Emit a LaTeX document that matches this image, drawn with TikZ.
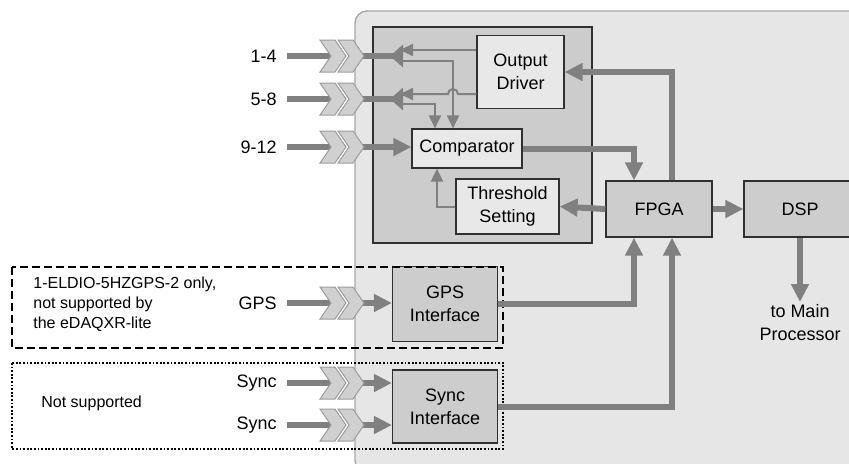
\documentclass[tikz,border=0pt]{standalone}
\usepackage{fontspec}
\setmainfont{Liberation Sans}
\usetikzlibrary{arrows.meta,calc}
\definecolor{dqpanel}{HTML}{E6E6E6}
\definecolor{dqrim}{HTML}{A8A8A8}
\definecolor{dqinner}{HTML}{CCCCCC}
\definecolor{dqink}{HTML}{303030}
\definecolor{dqlite}{HTML}{E8E8E8}
\definecolor{dqdark}{HTML}{CDCDCD}
\definecolor{dqline}{HTML}{808080}
\definecolor{dqchev}{HTML}{D0D0D0}
\definecolor{dqchevrim}{HTML}{9C9C9C}
\tikzset{
  bx/.style={draw=dqink, line width=0.6pt, align=center, inner sep=0pt, font=\fontsize{9}{11.5}\selectfont},
  lite/.style={bx, fill=dqlite},
  dark/.style={bx, fill=dqdark},
  fat/.style={line width=3pt, color=dqline},
  fatarr/.style={fat, -{Triangle[length=9pt,width=8.5pt]}},
  jarr/.style={fat, -{Triangle[length=6.5pt,width=11pt]}},
  tharr/.style={line width=1pt, color=dqline, -{Triangle[length=6.5pt,width=6pt]}},
  lbl/.style={font=\fontsize{9}{11}\selectfont, anchor=east, inner xsep=5pt, inner ysep=1pt},
  note/.style={font=\fontsize{8}{10}\selectfont, align=left, anchor=west, inner sep=0pt},
  plug/.pic={
    \foreach \dx in {0,18}
      \filldraw[fill=dqchev, draw=dqchevrim, line width=0.5pt]
        (\dx,-16) -- ++(15,0) -- ++(11,16) -- ++(-11,16) -- ++(-15,0) -- ++(11,-16) -- cycle;
    \coordinate (-in) at (11,0);
    \coordinate (-out) at (42,0);
  },
}

\begin{document}
\begin{tikzpicture}[x=0.5pt, y=-0.5pt]
  \clip (0,0) rectangle (849,463);
  \draw[fill=dqpanel, draw=dqrim, line width=0.7pt, rounded corners=6pt] (355,11) rectangle (900,472);
  \draw[fill=dqinner, draw=dqink, line width=0.6pt] (373,27) rectangle (592,243);

  \node[lite, minimum width=43.5pt, minimum height=36.5pt] (drv) at (520.5,72) {Output\\Driver};
  \node[lite, minimum width=55pt, minimum height=19.5pt] (cmp) at (467,148.5) {Comparator};
  \node[lite, minimum width=51.5pt, minimum height=27.5pt] (thr) at (507.5,206.5) {Threshold\\Setting};
  \node[dark, minimum width=53pt, minimum height=28pt] (fpga) at (659,209) {FPGA};
  \node[dark, minimum width=56pt, minimum height=28pt] (dsp) at (800,209) {DSP};
  \node[dark, minimum width=52.5pt, minimum height=37.5pt] (gps) at (445,304) {GPS\\Interface};
  \node[dark, minimum width=52.5pt, minimum height=36.5pt] (sync) at (445,406.5) {Sync\\Interface};
  \node[font=\fontsize{9}{11.5}\selectfont, align=center, anchor=north, inner sep=1pt] (mp) at (800,302) {to Main\\Processor};

  \draw[black, line width=1pt, dash pattern=on 4pt off 2pt] (12,267) rectangle (503,348);
  \draw[black, line width=0.9pt, dash pattern=on 0.9pt off 0.9pt] (12,363) rectangle (503,449);
  \node[note] (gpsnote) at (33,304) {1-ELDIO-5HZGPS-2 only,\\not supported by\\the eDAQXR-lite};
  \node[note] (syncnote) at (41,403) {Not supported};

  \node[lbl] (l14) at (287,56) {1-4};
  \node[lbl] (l58) at (287,99) {5-8};
  \node[lbl] (l912) at (287,147) {9-12};
  \node[lbl] (lgps) at (287,303) {GPS};
  \node[lbl] (ls1) at (287,383) {Sync};
  \node[lbl] (ls2) at (287,425) {Sync};

  \coordinate (j14) at (403,56);
  \coordinate (o14) at (400,50);
  \coordinate (i14) at (400,61);
  \coordinate (j58) at (403,99);
  \coordinate (o58) at (400,94);
  \coordinate (i58) at (400,104);
  \coordinate (v14) at ([xshift=-7pt]cmp.north);

  \foreach \n in {14,58,912,gps,s1,s2}
    \draw[fat] (l\n.east) -- (331,0 |- l\n.east);
  \draw[fat] (362,56) -- (j14);
  \draw[jarr] (j14) -- ([xshift=-6.5pt]j14);
  \draw[fat] (362,99) -- (j58);
  \draw[jarr] (j58) -- ([xshift=-6.5pt]j58);
  \draw[fatarr] (362,147) -- (cmp.west |- l912);
  \draw[fatarr] (362,303) -- (gps.west |- lgps);
  \draw[fatarr] (362,383) -- (sync.west |- ls1);
  \draw[fatarr] (362,425) -- (sync.west |- ls2);

  \pic (c14) at (320,56) {plug};
  \pic (c58) at (320,99) {plug};
  \pic (c912) at (320,147) {plug};
  \pic (cgps) at (320,303) {plug};
  \pic (cs1) at (320,383) {plug};
  \pic (cs2) at (320,425) {plug};

  \draw[tharr] (drv.west |- o14) -- (o14);
  \draw[tharr] (i14) -| (v14);
  \draw[tharr] (drv.west |- o58) -- ($(v14 |- o58)+(5,0)$) arc[start angle=0, end angle=-180, radius=5] -- (o58);
  \draw[tharr] (i58) -| ([xshift=-16pt]cmp.north);
  \draw[tharr] (thr.west) -| ([xshift=-15pt]cmp.south);

  \draw[fatarr] (cmp.east) -| ([xshift=-12.5pt]fpga.north);
  \draw[fatarr] ([xshift=6.5pt]fpga.north) |- (drv.east);
  \draw[fatarr] (fpga.west) -- (thr.east);
  \draw[fatarr] (fpga.east) -- (dsp.west);
  \draw[fatarr] (dsp.south) -- (mp.north);
  \draw[fatarr] (gps.east) -| ([xshift=-12.5pt]fpga.south);
  \draw[fatarr] (sync.east) -| ([xshift=6.5pt]fpga.south);
\end{tikzpicture}
\end{document}
